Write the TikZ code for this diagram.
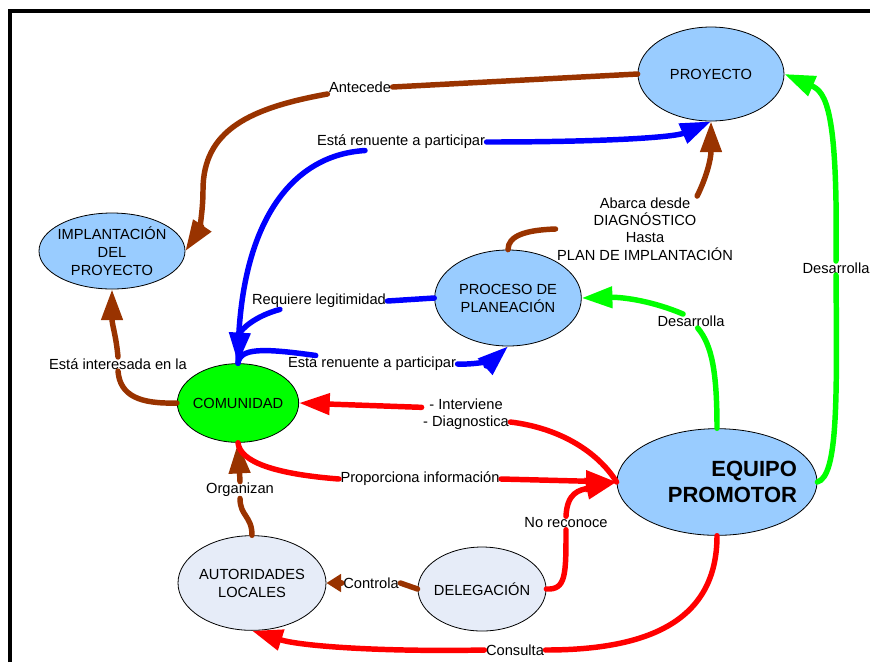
\documentclass[tikz,border=0pt]{standalone}
\usepackage{fontspec}
\setmainfont{Liberation Sans}
\usetikzlibrary{shapes.geometric, arrows.meta}

\definecolor{skyfill}{HTML}{99CCFF}
\definecolor{palefill}{HTML}{E6ECF8}
\definecolor{brownline}{HTML}{993300}

\begin{document}
\begin{tikzpicture}[
  x=0.75pt, y=-0.75pt,
  bubble/.style={ellipse, draw, line width=0.6pt, inner xsep=-3pt, inner ysep=0pt, align=center, font=\fontsize{11}{13.5}\selectfont},
  lbl/.style={inner sep=1pt, align=center, font=\fontsize{11}{13}\selectfont},
  link/.style={line width=4.1pt, line cap=round},
  arrow/.style={-{Triangle[length=23pt,width=15.5pt]}}
]
  \useasboundingbox (0,0) rectangle (870,662);
  \draw[line width=3pt] (10,662) -- (10,11) -- (870,11);

  % concepts
  \node[bubble, fill=skyfill, minimum width=109.5pt, minimum height=70.5pt] (proyecto) at (711,74) {PROYECTO};
  \node[bubble, fill=skyfill, minimum width=109.5pt, minimum height=57pt] (implantacion) at (112,251) {IMPLANTACIÓN\\DEL\\PROYECTO};
  \node[bubble, fill=skyfill, minimum width=110pt, minimum height=72pt] (proceso) at (508,298) {PROCESO DE\\PLANEACIÓN};
  \node[bubble, fill=green, minimum width=91pt, minimum height=59pt] (comunidad) at (238,403) {COMUNIDAD};
  \node[bubble, fill=skyfill, minimum width=150pt, minimum height=80pt, text width=120pt, align=right, inner xsep=-9pt, font=\bfseries\fontsize{16.5}{19.5}\selectfont] (equipo) at (717,482) {EQUIPO\\PROMOTOR};
  \node[bubble, fill=palefill, minimum width=111pt, minimum height=71pt] (autoridades) at (252,583) {AUTORIDADES\\LOCALES};
  \node[bubble, fill=palefill, minimum width=96pt, minimum height=63pt] (delegacion) at (482,589) {DELEGACIÓN};

  % link labels
  \node[lbl] (antecede) at (360,87) {Antecede};
  \node[lbl] (renuente1) at (401,142) {Está renuente a participar};
  \node[lbl] (requiere) at (319,301) {Requiere legitimidad};
  \node[lbl] (renuente2) at (372,364) {Está renuente a participar};
  \node[lbl] (abarca) at (645,229) {Abarca desde\\DIAGNÓSTICO\\Hasta\\PLAN DE IMPLANTACIÓN};
  \node[lbl] (desarrolla1) at (691,321) {Desarrolla};
  \node[lbl] (desarrolla2) at (836,268) {Desarrolla};
  \node[lbl] (interesada) at (118,364) {Está interesada en la};
  \node[lbl] (interviene) at (466,414) {- Interviene\\- Diagnostica};
  \node[lbl] (proporciona) at (420,479) {Proporciona información};
  \node[lbl] (organizan) at (240,490) {Organizan};
  \node[lbl] (controla) at (371,583) {Controla};
  \node[lbl] (noreconoce) at (566,523) {No reconoce};
  \node[lbl] (consulta) at (515,650) {Consulta};

  % brown links
  \draw[link, brownline] (proyecto.west) -- (antecede.east);
  \draw[link, arrow, brownline] (antecede.south west) .. controls (250,108) and (203,130) .. (203,190) .. controls (203,215) and (198,232) .. (implantacion.east);
  \draw[link, brownline] (proceso.north) .. controls (508,236) and (525,230) .. (abarca.west);
  \draw[link, arrow, brownline] ([xshift=-28pt]abarca.north east) .. controls (706,178) and (711,160) .. (proyecto.south);
  \draw[link, brownline] (comunidad.west) .. controls (140,404) and (120,396) .. (interesada.south);
  \draw[link, arrow, brownline] (interesada.north) .. controls (116,335) and (112,325) .. (implantacion.south);
  \draw[link, brownline] (autoridades.north) .. controls (252,516) and (240,516) .. (organizan.south);
  \draw[link, arrow, brownline] (organizan.north) -- (comunidad.south);
  \draw[link, brownline] (delegacion.west) -- (controla.east);
  \draw[link, brownline, -{Triangle[length=11pt,width=13pt]}] (controla.west) -- (autoridades.east);

  % blue links
  \draw[link, blue] (comunidad.north) .. controls (238,225) and (290,155) .. ([xshift=-27pt]renuente1.south);
  \draw[link, arrow, blue] (renuente1.east) .. controls (610,142) and (675,137) .. (proyecto.south);
  \draw[link, blue] (proceso.west) -- (requiere.east);
  \draw[link, arrow, blue] ([xshift=22pt]requiere.south west) .. controls (255,316) and (240,330) .. (comunidad.north);
  \draw[link, blue] (comunidad.north) .. controls (240,348) and (262,348) .. ([xshift=22pt]renuente2.north west);
  \draw[link, arrow, blue] (renuente2.east) .. controls (480,365) and (495,358) .. (proceso.south);

  % green links
  \draw[link, green] (equipo.north) .. controls (717,372) and (712,345) .. ([xshift=5pt]desarrolla1.south);
  \draw[link, arrow, green] ([xshift=-6pt]desarrolla1.north) .. controls (655,302) and (625,297) .. (proceso.east);
  \draw[link, green] (equipo.east) .. controls (838,476) and (837,400) .. (desarrolla2.south);
  \draw[link, arrow, green] (desarrolla2.north) .. controls (838,110) and (826,92) .. (proyecto.east);

  % red links
  \draw[link, red] (equipo.west) .. controls (598,452) and (560,428) .. ([yshift=-6pt]interviene.east);
  \draw[link, arrow, red] ([yshift=5pt]interviene.west) -- (comunidad.east);
  \draw[link, red] (comunidad.south) .. controls (240,462) and (275,474) .. (proporciona.west);
  \draw[link, arrow, red] (proporciona.east) -- (equipo.west);
  \draw[link, red] (delegacion.east) .. controls (566,590) and (566,575) .. (noreconoce.south);
  \draw[link, arrow, red] (noreconoce.north) .. controls (567,492) and (580,490) .. (equipo.west);
  \draw[link, red] (equipo.south) .. controls (717,620) and (650,650) .. (consulta.east);
  \draw[link, arrow, red] (consulta.west) .. controls (380,652) and (300,646) .. (autoridades.south);
\end{tikzpicture}
\end{document}
